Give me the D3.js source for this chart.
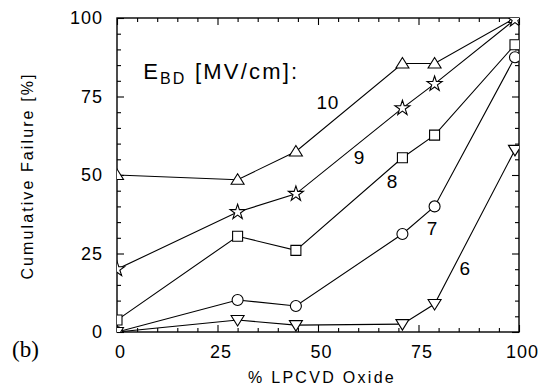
<!DOCTYPE html>
<html>
<head>
<meta charset="utf-8">
<script src="https://cdn.jsdelivr.net/npm/d3@7"></script>
<style>
html,body{margin:0;padding:0;background:#fff;}
svg{display:block;}
text{font-family:"Liberation Sans",Arial,sans-serif;fill:#000;}
</style>
</head>
<body>
<script>
const xValues = [0, 30, 44.5, 71, 79, 99];
const seriesNames = ["10", "9", "8", "7", "6"];
const s10 = [50, 48.5, 57.5, 85.5, 85.5, 100];
const s9  = [20, 38.2, 44, 71.3, 79, 99.5];
const s8  = [3.8, 30.5, 26, 55.5, 62.7, 91.5];
const s7  = [0, 10.2, 8.3, 31.2, 40, 87.5];
const s6  = [0, 3.8, 2.2, 2.5, 8.9, 58];
const seriesValues = [s10, s9, s8, s7, s6];
const seriesLabelPos = [[52.4, 73.2], [60.3, 55.7], [68.5, 47.8], [78.4, 33.1], [86.6, 20.1]];
const majorTicks = [0, 25, 50, 75, 100];
const minorTicks = d3.range(0, 101, 5).filter(v => v % 25 !== 0);
const xTitle = "% LPCVD Oxide";
const yTitle = "Cumulative Failure [%]";

const W = 546, H = 390;
const L = 117, R = 519, T = 18, B = 332;
const svg = d3.select("body").append("svg").attr("width", W).attr("height", H);
svg.append("rect").attr("width", W).attr("height", H).attr("fill", "#fff");

const x = d3.scaleLinear().domain([0, 100]).range([L, R]);
const y = d3.scaleLinear().domain([0, 100]).range([B, T]);

svg.append("defs").append("clipPath").attr("id", "clip")
  .append("rect").attr("x", L).attr("y", T).attr("width", R - L).attr("height", B - T);

// axes: ticks inward
function drawAxis(axisFn, transform, labels) {
  const gMinor = svg.append("g").attr("transform", transform)
    .call(axisFn.tickValues(minorTicks).tickSize(-4).tickFormat(""));
  gMinor.select(".domain").remove();
  const gMajor = svg.append("g").attr("transform", transform)
    .call(axisFn.tickValues(majorTicks).tickSize(-7).tickPadding(10)
      .tickFormat(labels ? d3.format("d") : ""));
  gMajor.select(".domain").remove();
  svg.selectAll("g .tick line").attr("stroke", "#000").attr("stroke-width", 1.1);
  return gMajor;
}
const gx = drawAxis(d3.axisBottom(x), `translate(0,${B})`, true);
gx.selectAll("text").attr("font-size", 18).attr("letter-spacing", 1).attr("dy", "0.9em").attr("dx", 3);
drawAxis(d3.axisTop(x), `translate(0,${T})`, false);
const gy = drawAxis(d3.axisLeft(y), `translate(${L},0)`, true);
gy.selectAll("text").attr("font-size", 18).attr("letter-spacing", 1).attr("dx", -4);
drawAxis(d3.axisRight(y), `translate(${R},0)`, false);

svg.append("rect").attr("x", L).attr("y", T).attr("width", R - L).attr("height", B - T)
  .attr("fill", "none").attr("stroke", "#000").attr("stroke-width", 1.4);

// lines
const line = d3.line().x((d, i) => x(xValues[i])).y(d => y(d));
const plot = svg.append("g").attr("clip-path", "url(#clip)");
seriesValues.forEach(vals => {
  plot.append("path").datum(vals).attr("d", line)
    .attr("fill", "none").attr("stroke", "#000").attr("stroke-width", 1.1);
});

// markers
const triUp = "M0,-6L6.5,4.5L-6.5,4.5Z";
const triDown = "M0,6L6.5,-4.5L-6.5,-4.5Z";
const markerPaths = [
  triUp,
  d3.symbol(d3.symbolStar, 70)(),
  d3.symbol(d3.symbolSquare, 100)(),
  d3.symbol(d3.symbolCircle, 95)(),
  triDown
];
seriesValues.forEach((vals, si) => {
  plot.selectAll(null).data(vals).enter().append("path")
    .attr("d", markerPaths[si])
    .attr("transform", (d, i) => `translate(${x(xValues[i])},${y(d)})`)
    .attr("fill", "#fff").attr("stroke", "#000").attr("stroke-width", 1.1);
});

// series labels
seriesNames.forEach((n, i) => {
  svg.append("text").attr("x", x(seriesLabelPos[i][0])).attr("y", y(seriesLabelPos[i][1]))
    .attr("text-anchor", "middle").attr("dominant-baseline", "central")
    .attr("font-size", 19).attr("letter-spacing", 0.5).text(n);
});

// E_BD label
const eb = svg.append("text").attr("x", x(6.5)).attr("y", y(80.5))
  .attr("font-size", 22).attr("letter-spacing", 2.2);
eb.append("tspan").text("E");
eb.append("tspan").attr("font-size", 16).attr("dy", 5).text("BD");
eb.append("tspan").attr("dy", -5).text(" [MV/cm]:");

// titles
svg.append("text").attr("x", 322).attr("y", 383).attr("text-anchor", "middle")
  .attr("font-size", 16).attr("letter-spacing", 2.3).text(xTitle);
svg.append("text").attr("transform", "translate(33,176) rotate(-90)").attr("text-anchor", "middle")
  .attr("font-size", 16).attr("letter-spacing", 2.1).text(yTitle);

svg.append("text").attr("x", 12).attr("y", 357).attr("font-size", 23)
  .style("font-family", "'Liberation Serif','Times New Roman',serif").text("(b)");
</script>
</body>
</html>
